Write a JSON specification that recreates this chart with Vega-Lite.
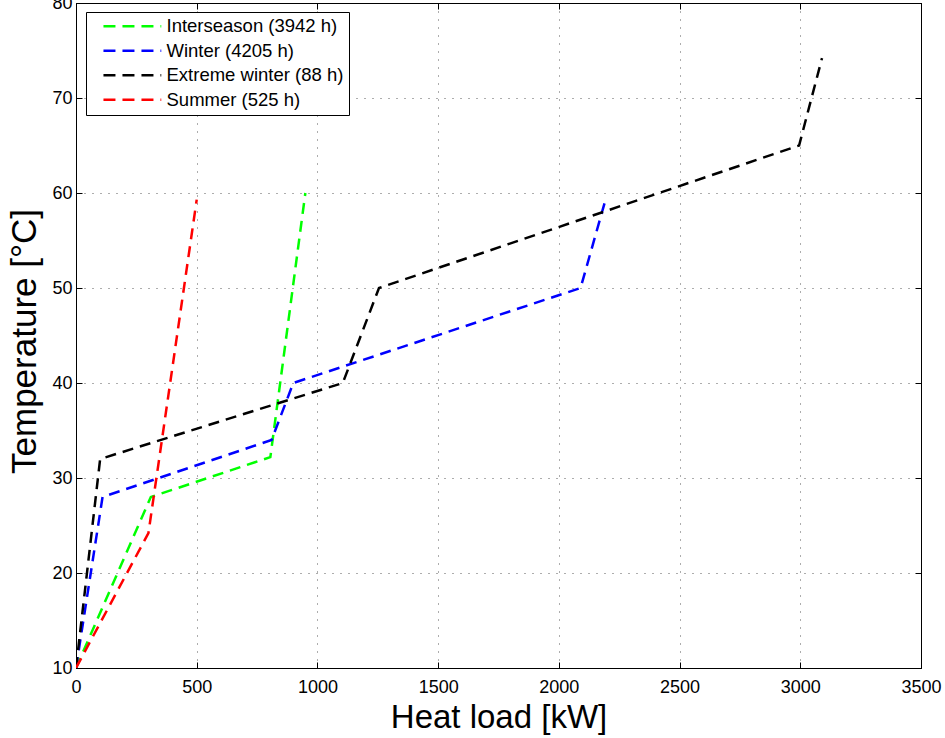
{
  "$schema": "https://vega.github.io/schema/vega-lite/v6.json",
  "width": 845,
  "height": 665,
  "autosize": {"type": "none"},
  "padding": {"left": 76, "top": 3, "right": 24, "bottom": 70},
  "background": "white",
  "config": {
    "font": "Liberation Sans",
    "view": {"stroke": "black", "strokeWidth": 1},
    "axis": {
      "domainColor": "black",
      "domainWidth": 1,
      "tickColor": "black",
      "tickSize": -6,
      "labelColor": "black",
      "labelFontSize": 18,
      "labelFont": "Liberation Sans",
      "titleFont": "Liberation Sans",
      "titleFontWeight": "normal",
      "titleColor": "black",
      "gridColor": "#333333",
      "gridDash": [1, 7],
      "gridWidth": 1,
      "gridOpacity": 0.8
    }
  },
  "data": {
    "values": [
      {"series": "Interseason (3942 h)", "load": 0, "temp": 10},
      {"series": "Interseason (3942 h)", "load": 310, "temp": 28},
      {"series": "Interseason (3942 h)", "load": 805, "temp": 32.2},
      {"series": "Interseason (3942 h)", "load": 950, "temp": 60},
      {"series": "Winter (4205 h)", "load": 0, "temp": 10},
      {"series": "Winter (4205 h)", "load": 110, "temp": 28},
      {"series": "Winter (4205 h)", "load": 810, "temp": 34},
      {"series": "Winter (4205 h)", "load": 900, "temp": 40},
      {"series": "Winter (4205 h)", "load": 2090, "temp": 50},
      {"series": "Winter (4205 h)", "load": 2190, "temp": 59},
      {"series": "Extreme winter (88 h)", "load": 0, "temp": 10},
      {"series": "Extreme winter (88 h)", "load": 100, "temp": 32},
      {"series": "Extreme winter (88 h)", "load": 1105, "temp": 40},
      {"series": "Extreme winter (88 h)", "load": 1255, "temp": 50},
      {"series": "Extreme winter (88 h)", "load": 2995, "temp": 65},
      {"series": "Extreme winter (88 h)", "load": 3090, "temp": 74.2},
      {"series": "Summer (525 h)", "load": 0, "temp": 10},
      {"series": "Summer (525 h)", "load": 300, "temp": 24.2},
      {"series": "Summer (525 h)", "load": 500, "temp": 59.3}
    ]
  },
  "resolve": {"axis": {"x": "independent", "y": "independent"}},
  "layer": [
    {
      "mark": {"type": "line", "strokeWidth": 2.5, "strokeDash": [11, 7], "clip": true},
      "encoding": {
        "x": {
          "field": "load", "type": "quantitative",
          "scale": {"domain": [0, 3500], "nice": false, "zero": false},
          "axis": {"title": "Heat load [kW]", "titleFontSize": 33, "format": "d", "values": [0, 500, 1000, 1500, 2000, 2500, 3000, 3500], "labelPadding": 16, "titleY": 59, "titleBaseline": "alphabetic", "labelFlush": false, "labelOverlap": false}
        },
        "y": {
          "field": "temp", "type": "quantitative",
          "scale": {"domain": [10, 80], "nice": false, "zero": false},
          "axis": {"title": "Temperature [°C]", "titleFontSize": 35, "format": "d", "values": [10, 20, 30, 40, 50, 60, 70, 80], "labelPadding": 10, "titleX": -41, "titleY": 338, "titleBaseline": "alphabetic", "labelFlush": false, "labelOverlap": false}
        },
        "color": {
          "field": "series", "type": "nominal",
          "scale": {
            "domain": ["Interseason (3942 h)", "Winter (4205 h)", "Extreme winter (88 h)", "Summer (525 h)"],
            "range": ["#00ff00", "#0000ff", "#000000", "#ff0000"]
          },
          "legend": {
            "title": null,
            "orient": "none",
            "legendX": 10,
            "legendY": 9,
            "fillColor": "white",
            "strokeColor": "black",
            "padding": 5,
            "rowPadding": 5.5,
            "labelFontSize": 18.5,
            "labelLimit": 400,
            "labelColor": "black",
            "labelFont": "Liberation Sans",
            "symbolType": "M0.5,0H9.5",
            "symbolSize": 165,
            "symbolStrokeWidth": 2.5,
            "symbolDash": [12, 7],
            "labelOffset": 57
          }
        }
      }
    },
    {
      "mark": {"type": "line", "opacity": 0},
      "encoding": {
        "x": {
          "field": "load", "type": "quantitative",
          "scale": {"domain": [0, 3500], "nice": false, "zero": false},
          "axis": {"orient": "top", "title": null, "labels": false, "grid": false, "values": [0, 500, 1000, 1500, 2000, 2500, 3000, 3500]}
        },
        "y": {
          "field": "temp", "type": "quantitative",
          "scale": {"domain": [10, 80], "nice": false, "zero": false},
          "axis": {"orient": "right", "title": null, "labels": false, "grid": false, "values": [10, 20, 30, 40, 50, 60, 70, 80]}
        },
        "detail": {"field": "series"}
      }
    }
  ]
}
